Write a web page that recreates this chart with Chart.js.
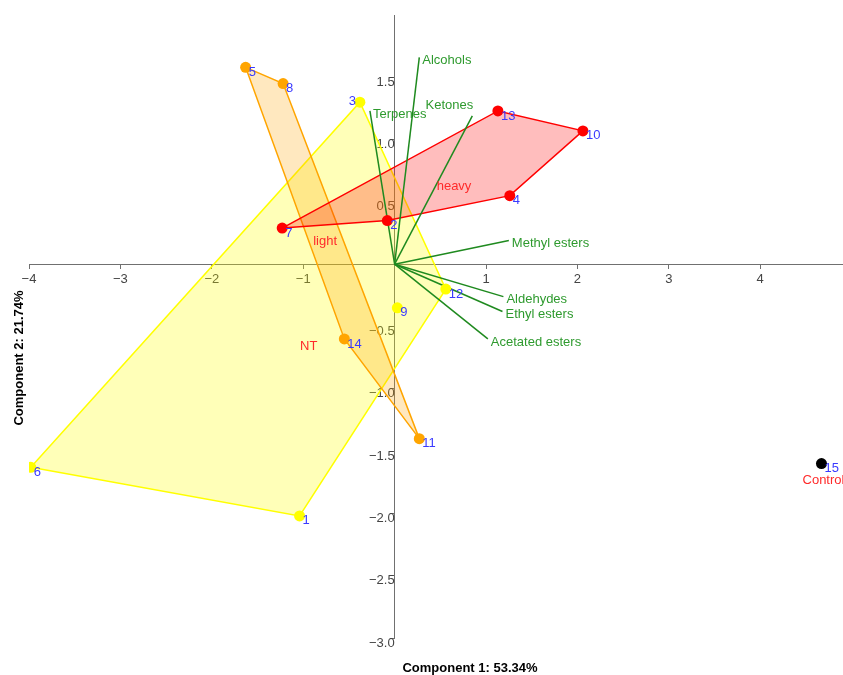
<!DOCTYPE html>
<html>
<head>
<meta charset="utf-8">
<script src="https://cdn.jsdelivr.net/npm/chart.js@4.4.1/dist/chart.umd.min.js"></script>
<style>
  html, body { margin: 0; background: #fff; overflow: hidden; }
  #wrap { width: 848px; height: 675px; position: relative; }
</style>
</head>
<body>
<div id="wrap"><canvas id="pca"></canvas></div>
<script>
// sample scores on the first two components
const sampleIds = ['1', '2', '3', '4', '5', '6', '7', '8', '9', '10', '11', '12', '13', '14', '15'];
const pc1 = [-1.04, -0.08, -0.38, 1.26, -1.63, -3.98, -1.23, -1.22, 0.03, 2.06, 0.27, 0.56, 1.13, -0.55, 4.67];
const pc2 = [-2.02, 0.35, 1.30, 0.55, 1.58, -1.63, 0.29, 1.45, -0.35, 1.07, -1.40, -0.20, 1.23, -0.60, -1.60];
const sampleGroup = ['NT', 'heavy', 'NT', 'heavy', 'light', 'NT', 'heavy', 'light', 'NT', 'heavy', 'light', 'NT', 'heavy', 'light', 'Control'];

const groupNames = ['NT', 'light', 'heavy', 'Control'];
const groupColors = ['#ffff00', '#ffa500', '#ff0000', '#000000'];
const groupFills = ['rgba(255,255,0,0.28)', 'rgba(255,165,0,0.25)', 'rgba(255,0,0,0.26)', 'rgba(0,0,0,0)'];

// variable loadings
const loadingNames = ['Alcohols', 'Ketones', 'Terpenes', 'Methyl esters', 'Aldehydes', 'Ethyl esters', 'Acetated esters'];
const loadingX = [0.27, 0.85, -0.27, 1.25, 1.19, 1.18, 1.02];
const loadingY = [1.66, 1.19, 1.23, 0.19, -0.26, -0.38, -0.60];

const xTicks = [-4, -3, -2, -1, 1, 2, 3, 4];
const yTicks = [1.5, 1.0, 0.5, -0.5, -1.0, -1.5, -2.0, -2.5, -3.0];

const leftLabels = ['3'];
const loadingAbove = ['Ketones'];

const FONT = "'Liberation Sans', Arial, sans-serif";
const minus = s => s.replace('-', '\u2212');

function hull(pts) {
  const p = pts.slice().sort((a, b) => a.x - b.x || a.y - b.y);
  if (p.length < 3) return p;
  const cross = (o, a, b) => (a.x - o.x) * (b.y - o.y) - (a.y - o.y) * (b.x - o.x);
  const lower = [], upper = [];
  for (const q of p) {
    while (lower.length >= 2 && cross(lower[lower.length - 2], lower[lower.length - 1], q) <= 0) lower.pop();
    lower.push(q);
  }
  for (let i = p.length - 1; i >= 0; i--) {
    const q = p[i];
    while (upper.length >= 2 && cross(upper[upper.length - 2], upper[upper.length - 1], q) <= 0) upper.pop();
    upper.push(q);
  }
  upper.pop(); lower.pop();
  return lower.concat(upper);
}

const groupPoints = groupNames.map(g => sampleIds
  .map((id, i) => ({ x: pc1[i], y: pc2[i], id: id }))
  .filter((p, i) => sampleGroup[i] === g));

const datasets = [];

groupNames.forEach((g, gi) => {
  const pts = groupPoints[gi];
  if (pts.length < 3) return;
  const h = hull(pts);
  datasets.push({
    label: g + ' hull',
    data: h.concat([h[0]]),
    showLine: true,
    fill: 'shape',
    backgroundColor: groupFills[gi],
    borderColor: groupColors[gi],
    borderWidth: 1.5,
    pointRadius: 0,
    order: 20 - gi
  });
});

loadingNames.forEach((n, i) => {
  datasets.push({
    label: n,
    data: [{ x: 0, y: 0 }, { x: loadingX[i], y: loadingY[i] }],
    showLine: true,
    borderColor: '#1f8a1f',
    borderWidth: 1.5,
    pointRadius: 0,
    order: 5
  });
});

groupNames.forEach((g, gi) => {
  datasets.push({
    label: g,
    data: groupPoints[gi],
    pointRadius: 5.5,
    pointBackgroundColor: groupColors[gi],
    pointBorderColor: groupColors[gi],
    pointBorderWidth: 0,
    order: 1
  });
});

const textPlugin = {
  id: 'pcaText',
  afterDatasetsDraw(chart) {
    const ctx = chart.ctx;
    const xs = chart.scales.x, ys = chart.scales.y;
    ctx.save();
    ctx.font = '13px ' + FONT;

    // sample numbers
    ctx.fillStyle = '#3a3aff';
    ctx.textBaseline = 'middle';
    sampleIds.forEach((id, i) => {
      const px = xs.getPixelForValue(pc1[i]);
      const py = ys.getPixelForValue(pc2[i]);
      if (leftLabels.includes(id)) {
        ctx.textAlign = 'right';
        ctx.fillText(id, px - 4, py - 1);
      } else {
        ctx.textAlign = 'left';
        ctx.fillText(id, px + 3, py + 5);
      }
    });

    // loading names
    ctx.fillStyle = '#2e9a2e';
    loadingNames.forEach((n, i) => {
      const px = xs.getPixelForValue(loadingX[i]);
      const py = ys.getPixelForValue(loadingY[i]);
      if (loadingAbove.includes(n)) {
        ctx.textAlign = 'right';
        ctx.fillText(n, px + 1, py - 11);
      } else {
        ctx.textAlign = 'left';
        ctx.fillText(n, px + 3, py + 3);
      }
    });

    // group names at centroids
    ctx.fillStyle = '#ff2a2a';
    ctx.textAlign = 'center';
    ctx.textBaseline = 'top';
    groupNames.forEach((g, gi) => {
      const pts = groupPoints[gi];
      const cx = pts.reduce((s, p) => s + p.x, 0) / pts.length;
      const cy = pts.reduce((s, p) => s + p.y, 0) / pts.length;
      const off = pts.length === 1 ? 10 : 3;
      ctx.fillText(g, xs.getPixelForValue(cx) + 2, ys.getPixelForValue(cy) + off);
    });

    // axis titles
    ctx.fillStyle = '#000';
    ctx.font = 'bold 13px ' + FONT;
    ctx.textBaseline = 'middle';
    ctx.fillText('Component 1: 53.34%', 470, 668);
    ctx.translate(19, 358);
    ctx.rotate(-Math.PI / 2);
    ctx.fillText('Component 2: 21.74%', 0, 0);
    ctx.restore();
  }
};

const axisColor = '#707070';
const noSize = s => {
  s.paddingLeft = s.paddingRight = s.paddingTop = s.paddingBottom = 0;
  if (s.isHorizontal()) s.height = 0; else s.width = 0;
};

new Chart(document.getElementById('pca'), {
  type: 'scatter',
  data: { datasets: datasets },
  options: {
    responsive: true,
    maintainAspectRatio: false,
    animation: false,
    layout: { padding: { left: 29, right: 0, top: 15, bottom: 37 } },
    plugins: { legend: { display: false }, tooltip: { enabled: false } },
    scales: {
      x: {
        type: 'linear',
        position: { y: 0 },
        min: -4,
        max: 4.9,
        afterBuildTicks: s => { s.ticks = xTicks.map(v => ({ value: v })); },
        afterFit: noSize,
        border: { display: true, color: axisColor, width: 1 },
        grid: { display: true, drawOnChartArea: false, drawTicks: true, tickLength: 4, color: axisColor },
        ticks: {
          padding: 3,
          maxRotation: 0,
          color: '#444',
          font: { size: 13, family: FONT },
          callback: v => minus(String(v))
        }
      },
      y: {
        type: 'linear',
        position: { x: 0 },
        min: -3,
        max: 2.0,
        afterBuildTicks: s => { s.ticks = yTicks.map(v => ({ value: v })); },
        afterFit: noSize,
        border: { display: true, color: axisColor, width: 1 },
        grid: { display: true, drawOnChartArea: false, drawTicks: true, tickLength: 4, color: axisColor },
        ticks: {
          padding: 1,
          labelOffset: 5,
          color: '#444',
          font: { size: 13, family: FONT },
          callback: v => minus(v.toFixed(1))
        }
      }
    }
  },
  plugins: [textPlugin]
});
</script>
</body>
</html>
